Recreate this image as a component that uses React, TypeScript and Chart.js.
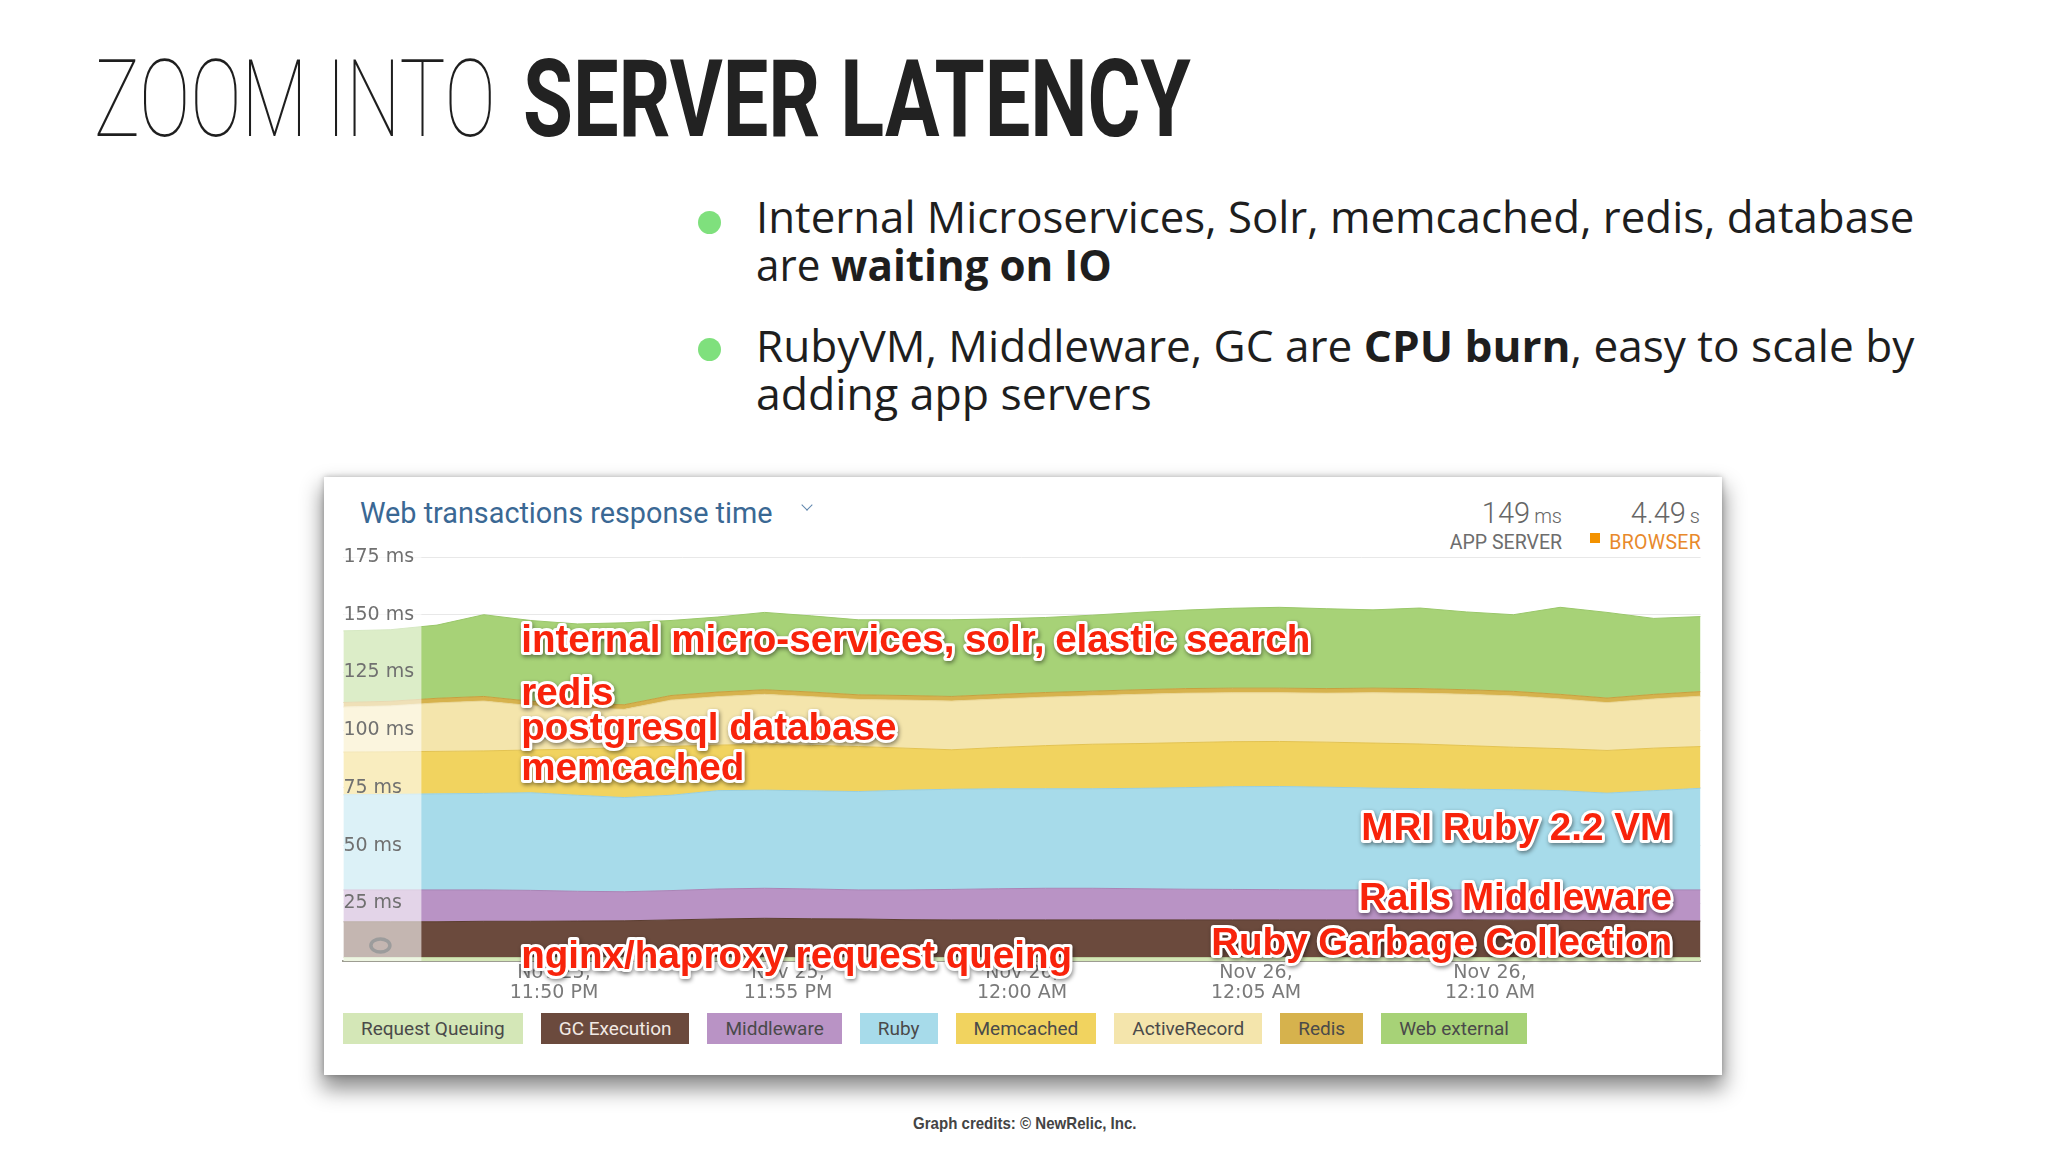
import React, { useEffect, useLayoutEffect, useRef, useState } from 'react';
import { Chart, registerables } from 'chart.js';

Chart.register(...registerables);

// ---------------- data ----------------
// time axis: minutes relative to Nov 25, 11:50 PM
const minutes = [-4.5, -3.5, -2.5, -1.5, -0.5, 0.5, 1.5, 2.5, 3.5, 4.5, 5.5, 6.5, 7.5, 8.5, 9.5, 10.5, 11.5, 12.5, 13.5, 14.5, 15.5, 16.5, 17.5, 18.5, 19.5, 20.5, 21.5, 22.5, 23.5, 24.5];

// stacked series values (ms), bottom to top
const requestQueuing = [1.5, 1.5, 1.5, 1.5, 1.5, 1.5, 1.5, 1.5, 1.5, 1.5, 1.5, 1.5, 1.5, 1.5, 1.5, 1.5, 1.5, 1.5, 1.5, 1.5, 1.5, 1.5, 1.5, 1.5, 1.5, 1.5, 1.5, 1.5, 1.5, 1.5];
const gcExecution = [15.5, 15.5, 15.5, 15.7, 15.7, 15.8, 15.9, 16.3, 16.7, 17.0, 16.8, 16.7, 16.4, 16.3, 16.3, 16.3, 16.3, 16.3, 16.3, 16.3, 16.3, 16.3, 16.3, 16.3, 16.3, 16.2, 16.1, 16.0, 15.9, 15.8];
const middleware = [13.8, 13.8, 13.8, 13.6, 13.4, 12.9, 12.6, 12.7, 13.0, 13.0, 12.9, 12.6, 12.9, 13.2, 13.5, 13.7, 13.7, 13.5, 13.3, 13.2, 13.1, 13.0, 13.0, 13.0, 13.0, 13.1, 13.2, 13.3, 13.4, 13.5];
const ruby = [41.2, 41.4, 41.6, 41.8, 42.3, 41.6, 40.8, 41.3, 42.6, 42.5, 42.5, 42.6, 43.2, 43.4, 43.3, 43.1, 43.1, 43.5, 44.0, 44.5, 44.7, 44.5, 44.1, 43.9, 43.6, 43.4, 43.0, 41.9, 43.0, 44.0];
const memcached = [18.5, 18.4, 18.4, 18.4, 18.5, 20.0, 21.7, 21.2, 19.7, 19.9, 19.7, 19.5, 18.2, 17.1, 17.9, 18.7, 19.3, 19.4, 19.5, 19.5, 19.5, 19.5, 19.5, 19.3, 18.9, 18.4, 18.2, 18.5, 18.4, 18.1];
const activeRecord = [19.5, 19.9, 21.0, 21.6, 19.2, 17.8, 16.5, 20.0, 21.0, 21.6, 21.1, 20.4, 20.8, 21.1, 21.0, 21.0, 21.0, 21.3, 21.4, 21.2, 21.1, 21.2, 21.8, 22.0, 22.2, 22.2, 21.5, 20.7, 21.3, 21.8];
const redis = [2.0, 2.0, 2.0, 2.0, 1.9, 1.9, 2.0, 2.0, 2.0, 2.0, 2.0, 2.0, 2.0, 2.0, 2.0, 2.0, 2.0, 2.0, 2.0, 2.0, 2.0, 2.0, 2.0, 2.0, 2.0, 2.0, 2.0, 2.0, 2.0, 2.0];
const webExternal = [31.0, 31.0, 31.7, 35.4, 35.0, 34.5, 35.5, 32.5, 32.5, 33.5, 33.0, 32.5, 32.8, 33.2, 32.7, 32.5, 32.9, 33.5, 34.0, 34.6, 35.0, 34.6, 33.9, 34.9, 33.7, 33.2, 37.7, 37.1, 32.9, 32.5];

const seriesNames = ['Request Queuing', 'GC Execution', 'Middleware', 'Ruby', 'Memcached', 'ActiveRecord', 'Redis', 'Web external'];
const seriesValues = [requestQueuing, gcExecution, middleware, ruby, memcached, activeRecord, redis, webExternal];

const xTickValues = [0, 5, 10, 15, 20];
const xTickDates = ['Nov 25,', 'Nov 25,', 'Nov 26,', 'Nov 26,', 'Nov 26,'];
const xTickTimes = ['11:50 PM', '11:55 PM', '12:00 AM', '12:05 AM', '12:10 AM'];
const yTickValues = [0, 25, 50, 75, 100, 125, 150, 175];

const appServerValue = '149';
const appServerUnit = 'ms';
const browserValue = '4.49';
const browserUnit = 's';

// ---------------- styles ----------------
const seriesColors = ['#d4e7b7', '#6b4a3d', '#b993c5', '#a7dbea', '#f1d35f', '#f4e5ac', '#d6b24d', '#a7d277'];
const seriesBorders = ['#bccf9c', '#5c3e32', '#a985b6', '#98cfe0', '#e3c352', '#e9d696', '#c6a13f', '#9ac76a'];
const legendTextColors = ['#4a4a4a', '#f2e9e4', '#4a4a4a', '#4a4a4a', '#4a4a4a', '#4a4a4a', '#4a4a4a', '#4a4a4a'];

const annotations = [
  { text: 'internal micro-services, solr, elastic search', x: -0.7, y: 133.8, align: 'left' },
  { text: 'redis', x: -0.7, y: 110.9, align: 'left' },
  { text: 'postgresql database', x: -0.7, y: 95.7, align: 'left' },
  { text: 'memcached', x: -0.7, y: 78.6, align: 'left' },
  { text: 'nginx/haproxy request queing', x: -0.7, y: -3.0, align: 'left' },
  { text: 'MRI Ruby 2.2 VM', x: 23.89, y: 52.4, align: 'right' },
  { text: 'Rails Middleware', x: 23.89, y: 22.1, align: 'right' },
  { text: 'Ruby Garbage Collection', x: 23.89, y: 2.6, align: 'right' },
];

const fadePlugin = {
  id: 'fadeColumn',
  afterDatasetsDraw(chart: any) {
    const { ctx, chartArea, scales } = chart;
    ctx.save();
    ctx.fillStyle = 'rgba(255,255,255,0.6)';
    ctx.fillRect(chartArea.left, chartArea.top, 78, chartArea.bottom - chartArea.top);
    const y0 = scales.y.getPixelForValue(0);
    ctx.strokeStyle = '#9c9c9c';
    ctx.lineWidth = 3.5;
    ctx.beginPath();
    ctx.ellipse(chartArea.left + 37, y0 - 15.5, 9.5, 6.5, 0, 0, Math.PI * 2);
    ctx.stroke();
    ctx.restore();
  },
};

const annotationPlugin = {
  id: 'redLabels',
  afterDraw(chart: any) {
    const { ctx, scales } = chart;
    ctx.save();
    ctx.font = 'bold 38.6px "Liberation Sans", Arial, sans-serif';
    ctx.textBaseline = 'alphabetic';
    ctx.lineJoin = 'round';
    for (const a of annotations) {
      const x = scales.x.getPixelForValue(a.x);
      const y = scales.y.getPixelForValue(a.y);
      ctx.textAlign = a.align as CanvasTextAlign;
      ctx.shadowColor = 'rgba(0,0,0,0.45)';
      ctx.shadowBlur = 4;
      ctx.shadowOffsetX = 1;
      ctx.shadowOffsetY = 2;
      ctx.strokeStyle = '#ffffff';
      ctx.lineWidth = 6;
      ctx.strokeText(a.text, x, y);
      ctx.shadowColor = 'transparent';
      ctx.fillStyle = '#f8230b';
      ctx.fillText(a.text, x, y);
    }
    ctx.restore();
  },
};

function Fit({ width, left, top, style, children }: any) {
  const ref = useRef<HTMLDivElement>(null);
  const [scale, setScale] = useState(1);
  useLayoutEffect(() => {
    const measure = () => {
      const el = ref.current;
      if (!el) return;
      const w = el.offsetWidth;
      if (w > 0) setScale(width / w);
    };
    measure();
    const fonts = (document as any).fonts;
    if (fonts && fonts.ready) fonts.ready.then(measure);
  }, [width]);
  return (
    <div
      ref={ref}
      style={{
        position: 'absolute',
        left,
        top,
        whiteSpace: 'nowrap',
        transform: `scaleX(${scale})`,
        transformOrigin: 'left top',
        ...style,
      }}
    >
      {children}
    </div>
  );
}

function LatencyChart() {
  const canvasRef = useRef<HTMLCanvasElement>(null);
  useEffect(() => {
    if (!canvasRef.current) return;
    const chart = new Chart(canvasRef.current, {
      type: 'line',
      data: {
        datasets: seriesNames.map((name, i) => ({
          label: name,
          data: minutes.map((m, j) => ({ x: m, y: seriesValues[i][j] })),
          backgroundColor: seriesColors[i],
          borderColor: seriesBorders[i],
          borderWidth: 1,
          pointRadius: 0,
          tension: 0,
          fill: i === 0 ? 'origin' : '-1',
        })),
      },
      options: {
        animation: false,
        responsive: false,
        maintainAspectRatio: false,
        events: [],
        layout: { padding: { left: 19.4, right: 21.4, top: 27, bottom: 7 } },
        plugins: {
          legend: { display: false },
          tooltip: { enabled: false },
          title: { display: false },
        },
        scales: {
          x: {
            type: 'linear',
            min: -4.5,
            max: 24.5,
            afterBuildTicks: (s: any) => {
              s.ticks = xTickValues.map((v) => ({ value: v }));
            },
            afterFit: (s: any) => {
              s.height = 42;
            },
            grid: { display: false, drawTicks: false },
            border: { display: true, color: '#9d9d92', width: 2 },
            ticks: {
              autoSkip: false,
              maxRotation: 0,
              padding: 2,
              color: '#7a7a7a',
              font: { family: 'DejaVu Sans', size: 19, lineHeight: 1.05 },
              callback: (_v: any, i: number) => [xTickDates[i], xTickTimes[i]],
            },
          },
          y: {
            stacked: true,
            min: 0,
            max: 175,
            afterBuildTicks: (s: any) => {
              s.ticks = yTickValues.map((v) => ({ value: v }));
            },
            afterFit: (s: any) => {
              s.width = 0;
            },
            grid: { color: '#e8e8e8', drawTicks: false, lineWidth: 1 },
            border: { display: false },
            ticks: {
              mirror: true,
              padding: 0,
              z: 1,
              color: '#707070',
              font: { family: 'DejaVu Sans', size: 19 },
              callback: (v: any) => (Number(v) === 0 ? '' : `${v} ms`),
            },
          },
        },
      } as any,
      plugins: [fadePlugin, annotationPlugin],
    });
    return () => chart.destroy();
  }, []);
  return (
    <canvas
      ref={canvasRef}
      width={1398}
      height={480}
      style={{ position: 'absolute', left: 324, top: 530, width: 1398, height: 480 }}
    />
  );
}

export default function App() {
  return (
    <div style={{ position: 'absolute', left: 0, top: 0, width: 2048, height: 1152, background: '#ffffff', overflow: 'hidden' }}>
      {/* slide title */}
      <Fit width={402} left={94} top={45} style={{ fontFamily: 'Roboto', fontWeight: 100, fontSize: 108, lineHeight: '108px', color: '#1e1e1e' }}>
        ZOOM INTO
      </Fit>
      <Fit width={668} left={523} top={45} style={{ fontFamily: 'Roboto', fontWeight: 700, fontSize: 108, lineHeight: '108px', color: '#222222' }}>
        SERVER LATENCY
      </Fit>

      {/* bullets */}
      <div style={{ position: 'absolute', left: 698, top: 211, width: 23, height: 23, borderRadius: '50%', background: '#7fe07d' }} />
      <div style={{ position: 'absolute', left: 698, top: 338, width: 23, height: 23, borderRadius: '50%', background: '#7fe07d' }} />
      <Fit width={1158} left={756} top={193} style={{ fontFamily: '"Open Sans"', fontSize: 43, lineHeight: '48px', color: '#1e1e1e' }}>
        Internal Microservices, Solr, memcached, redis, database
      </Fit>
      <Fit width={356} left={756} top={241} style={{ fontFamily: '"Open Sans"', fontSize: 43, lineHeight: '48px', color: '#1e1e1e' }}>
        are <b style={{ fontWeight: 700 }}>waiting on IO</b>
      </Fit>
      <Fit width={1158} left={756} top={322} style={{ fontFamily: '"Open Sans"', fontSize: 43, lineHeight: '48px', color: '#1e1e1e' }}>
        RubyVM, Middleware, GC are <b style={{ fontWeight: 700 }}>CPU burn</b>, easy to scale by
      </Fit>
      <Fit width={396} left={756} top={370} style={{ fontFamily: '"Open Sans"', fontSize: 43, lineHeight: '48px', color: '#1e1e1e' }}>
        adding app servers
      </Fit>

      {/* card */}
      <div
        style={{
          position: 'absolute',
          left: 324,
          top: 477,
          width: 1398,
          height: 598,
          background: '#ffffff',
          boxShadow: '0 12px 20px 2px rgba(0,0,0,0.45), 0 0 6px rgba(0,0,0,0.25)',
        }}
      />
      <Fit width={413} left={360} top={496} style={{ fontFamily: 'Roboto', fontSize: 29, lineHeight: '34px', color: '#3a6894' }}>
        Web transactions response time
      </Fit>
      <div
        style={{
          position: 'absolute',
          left: 803,
          top: 501,
          width: 7,
          height: 7,
          borderRight: '1.5px solid #5f86ad',
          borderBottom: '1.5px solid #5f86ad',
          transform: 'rotate(45deg)',
        }}
      />
      <div style={{ position: 'absolute', right: 2048 - 1562, top: 496, fontFamily: 'Roboto', fontWeight: 300, fontSize: 29, lineHeight: '34px', color: '#666666', whiteSpace: 'nowrap' }}>
        {appServerValue}
        <span style={{ fontSize: 20, marginLeft: 4 }}>{appServerUnit}</span>
      </div>
      <div style={{ position: 'absolute', right: 2048 - 1562, top: 531, fontFamily: 'Roboto', fontSize: 19.5, lineHeight: '24px', color: '#6d6d6d', whiteSpace: 'nowrap' }}>
        APP SERVER
      </div>
      <div style={{ position: 'absolute', right: 2048 - 1700, top: 496, fontFamily: 'Roboto', fontWeight: 300, fontSize: 29, lineHeight: '34px', color: '#666666', whiteSpace: 'nowrap' }}>
        {browserValue}
        <span style={{ fontSize: 20, marginLeft: 4 }}>{browserUnit}</span>
      </div>
      <div style={{ position: 'absolute', left: 1590, top: 533, width: 10, height: 10, background: '#f39200' }} />
      <div style={{ position: 'absolute', right: 2048 - 1701, top: 531, fontFamily: 'Roboto', fontSize: 19.5, lineHeight: '24px', color: '#e8892b', whiteSpace: 'nowrap', letterSpacing: 0.3 }}>
        BROWSER
      </div>

      <LatencyChart />

      {/* legend */}
      <div style={{ position: 'absolute', left: 343, top: 1013, display: 'flex', gap: 18 }}>
        {seriesNames.map((n, i) => (
          <div
            key={n}
            style={{
              height: 31,
              lineHeight: '31px',
              padding: '0 18px',
              background: seriesColors[i],
              color: legendTextColors[i],
              fontFamily: 'Roboto',
              fontSize: 19,
              whiteSpace: 'nowrap',
            }}
          >
            {n}
          </div>
        ))}
      </div>

      {/* credits */}
      <Fit width={224} left={913} top={1114} style={{ fontFamily: '"Liberation Sans", Arial, sans-serif', fontWeight: 700, fontSize: 17, lineHeight: '20px', color: '#444444' }}>
        Graph credits: © NewRelic, Inc.
      </Fit>
    </div>
  );
}
